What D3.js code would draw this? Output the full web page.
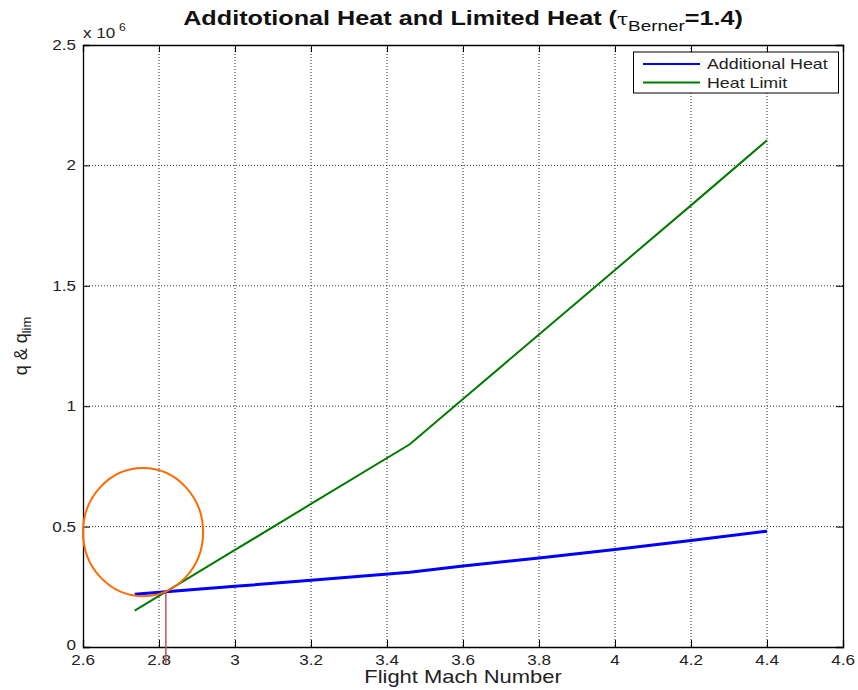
<!DOCTYPE html>
<html>
<head>
<meta charset="utf-8">
<script src="https://cdn.jsdelivr.net/npm/d3@7"></script>
<style>
  html, body { margin: 0; padding: 0; background: #fff; }
  svg { display: block; font-family: "Liberation Sans", Arial, sans-serif; }
</style>
</head>
<body>
<svg id="chart" width="858" height="690"></svg>
<script>
// ---- data ----
const mach = [2.736, 3.0, 3.2, 3.46, 3.6, 3.8, 4.0, 4.2, 4.4];
const additionalHeat = [0.219e6, 0.252e6, 0.277e6, 0.310e6, 0.336e6, 0.370e6, 0.405e6, 0.442e6, 0.481e6];
const heatLimit = [0.151e6, 0.403e6, 0.594e6, 0.842e6, 1.030e6, 1.298e6, 1.566e6, 1.834e6, 2.104e6];
const xTicks = [2.6, 2.8, 3.0, 3.2, 3.4, 3.6, 3.8, 4.0, 4.2, 4.4, 4.6];
const yTicks = [0, 0.5e6, 1.0e6, 1.5e6, 2.0e6, 2.5e6];
const seriesNames = ["Additional Heat", "Heat Limit"];
const seriesColors = ["#0000ff", "#007a00"];
// annotation: intersection marker and highlight ellipse
const markX = [2.818];
const markY = [0.228e6, -0.07e6];
const ellipseCenter = [2.758, 0.477e6];
const ellipseRadius = [0.158, 0.266e6];

// ---- layout ----
const svg = d3.select("#chart");
const L = 83, R = 843, T = 45, B = 647;
const SX = 1.22; // horizontal text stretch seen in the reference
const x = d3.scaleLinear().domain([2.6, 4.6]).range([L, R]);
const y = d3.scaleLinear().domain([0, 2.5e6]).range([B, T]);

function txt(g, px, py, s, size, anchor, opts = {}) {
  return g.append("text")
    .attr("transform", `translate(${px},${py}) scale(${opts.sx || SX},1)`)
    .attr("text-anchor", anchor)
    .attr("font-size", size)
    .attr("fill", opts.fill || "#222")
    .attr("font-weight", opts.weight || "normal")
    .text(s);
}

// grid
const grid = svg.append("g");
grid.selectAll("line.gx").data(xTicks.slice(1, -1)).join("line")
  .attr("x1", d => x(d)).attr("x2", d => x(d)).attr("y1", T).attr("y2", B)
  .attr("stroke", "#333").attr("stroke-width", 1).attr("stroke-dasharray", "1,2");
grid.selectAll("line.gy").data(yTicks.slice(1, -1)).join("line")
  .attr("y1", d => y(d)).attr("y2", d => y(d)).attr("x1", L).attr("x2", R)
  .attr("stroke", "#333").attr("stroke-width", 1).attr("stroke-dasharray", "1,2");

// axes (ticks inward on all four sides)
const tl = 7;
const axB = d3.axisBottom(x).tickValues(xTicks).tickSize(-tl).tickFormat("");
const axT = d3.axisTop(x).tickValues(xTicks).tickSize(-tl).tickFormat("");
const axL = d3.axisLeft(y).tickValues(yTicks).tickSize(-tl).tickFormat("");
const axR = d3.axisRight(y).tickValues(yTicks).tickSize(-tl).tickFormat("");
[[axB, `translate(0,${B})`], [axT, `translate(0,${T})`], [axL, `translate(${L},0)`], [axR, `translate(${R},0)`]]
  .forEach(([a, tr]) => {
    const g = svg.append("g").attr("transform", tr).call(a);
    g.selectAll("path").attr("stroke", "#000").attr("stroke-width", 1.3);
    g.selectAll("line").attr("stroke", "#000").attr("stroke-width", 1);
  });

// tick labels
const lab = svg.append("g");
xTicks.forEach(v => txt(lab, x(v), 665, d3.format("")(+v.toFixed(1)), 14, "middle"));
yTicks.forEach(v => txt(lab, 76, y(v) + (v === 0 ? 3 : 5), d3.format("")(+(v / 1e6).toFixed(1)), 14, "end"));
// exponent
txt(lab, L, 38, "x 10", 14, "start");
txt(lab, L + 36, 31, "6", 10, "start");

// lines
const line = d3.line().x((d, i) => x(mach[i])).y(d => y(d));
svg.append("path").datum(heatLimit).attr("d", line)
  .attr("fill", "none").attr("stroke", seriesColors[1]).attr("stroke-width", 2);
svg.append("path").datum(additionalHeat).attr("d", line)
  .attr("fill", "none").attr("stroke", seriesColors[0]).attr("stroke-width", 3);

// annotation marker + ellipse
svg.append("line")
  .attr("x1", x(markX[0])).attr("x2", x(markX[0]))
  .attr("y1", y(markY[0])).attr("y2", y(markY[1]))
  .attr("stroke", "#c0505a").attr("stroke-width", 1.5);
svg.append("ellipse")
  .attr("cx", x(ellipseCenter[0])).attr("cy", y(ellipseCenter[1]))
  .attr("rx", x(ellipseCenter[0] + ellipseRadius[0]) - x(ellipseCenter[0]))
  .attr("ry", y(ellipseCenter[1]) - y(ellipseCenter[1] + ellipseRadius[1]))
  .attr("fill", "none").attr("stroke", "#ff6a00").attr("stroke-width", 2);

// legend
const lg = svg.append("g");
lg.append("rect").attr("x", 633.5).attr("y", 52).attr("width", 205).attr("height", 41)
  .attr("fill", "#fff").attr("stroke", "#000").attr("stroke-width", 1);
seriesNames.forEach((n, i) => {
  const yy = 64 + i * 18.5;
  lg.append("line").attr("x1", 643).attr("x2", 700).attr("y1", yy).attr("y2", yy)
    .attr("stroke", seriesColors[i]).attr("stroke-width", 2);
  txt(lg, 707, yy + 5, n, 14.6, "start");
});

// title
const title = svg.append("text")
  .attr("transform", `translate(${(L + R) / 2},25) scale(1.26,1)`)
  .attr("text-anchor", "middle").attr("font-size", 20).attr("font-weight", "bold").attr("fill", "#111");
title.append("tspan").text("Additotional Heat and Limited Heat (");
title.append("tspan").attr("font-weight", "normal").attr("font-size", 16).attr("font-family", "DejaVu Serif, serif").text("τ");
title.append("tspan").attr("font-weight", "normal").attr("font-size", 15).attr("dy", 6).text("Berner");
title.append("tspan").attr("dy", -6).text("=1.4)");

// axis titles
txt(svg, (L + R) / 2, 683, "Flight Mach Number", 18, "middle");
const yl = svg.append("text")
  .attr("transform", `translate(27,${(T + B) / 2}) rotate(-90)`)
  .attr("text-anchor", "middle").attr("font-size", 18).attr("fill", "#222");
yl.append("tspan").text("q & q");
yl.append("tspan").attr("font-size", 13).attr("dy", 4).text("lim");
</script>
</body>
</html>
